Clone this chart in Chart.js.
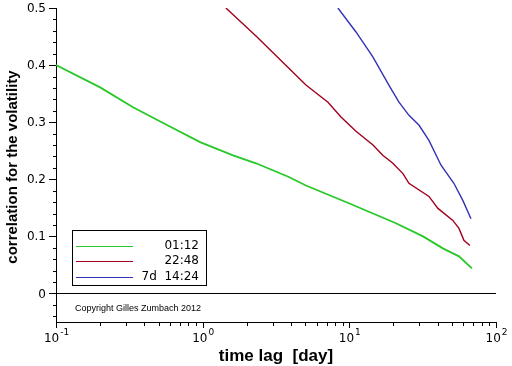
<!DOCTYPE html>
<html>
<head>
<meta charset="utf-8">
<script src="https://cdn.jsdelivr.net/npm/chart.js@4/dist/chart.umd.min.js"></script>
<style>
  html, body { margin: 0; padding: 0; background: #fff; }
  canvas { display: block; }
</style>
</head>
<body>
<canvas id="grafico" width="512" height="366"></canvas>
<script>
// --- datos (lag en dias, correlacion) ---
const greenX = [0.1, 0.2, 0.335, 0.571, 0.96, 1.61, 2.31, 3.87, 5.06, 9.93, 20.8, 31.8, 43.4, 55.9, 68.5];
const greenY = [0.4, 0.361, 0.326, 0.295, 0.265, 0.242, 0.228, 0.204, 0.189, 0.158, 0.123, 0.10, 0.079, 0.065, 0.044];

const redX = [1.44, 2.31, 5.06, 7.15, 8.77, 11.1, 14.5, 16.9, 19.8, 23.2, 25.5, 34.9, 40.2, 50.8, 55.9, 60.4, 66.4];
const redY = [0.5, 0.451, 0.365, 0.335, 0.309, 0.284, 0.26, 0.242, 0.228, 0.21, 0.193, 0.170, 0.149, 0.128, 0.114, 0.093, 0.084];

const blueX = [8.36, 11.1, 14.5, 18.6, 21.8, 25.5, 29.8, 34.9, 42.1, 51.6, 59.4, 67.5];
const blueY = [0.5, 0.458, 0.414, 0.365, 0.335, 0.312, 0.295, 0.268, 0.225, 0.193, 0.163, 0.131];

const seriesNames = ["01:12", "22:48", "7d  14:24"];
const seriesColors = ["#28c828", "#a0001e", "#3232b4"];

const yTickValues = [0, 0.1, 0.2, 0.3, 0.4, 0.5];
const yTickLabels = ["0", "0.1", "0.2", "0.3", "0.4", "0.5"];
const yMinorStep = 0.02;
const xTickValues = [0.1, 1, 10, 100];
const xTickExponents = ["-1", "0", "1", "2"];

const xTitle = "time lag  [day]";
const yTitle = "correlation for the volatility";
const copyright = "Copyright Gilles Zumbach 2012";

function puntos(xs, ys) {
  return xs.map((x, i) => ({ x, y: ys[i] }));
}

const THIN = "12px 'DejaVu Sans'";

// dibuja ticks, etiquetas, titulos, linea cero y leyenda
const decoracion = {
  id: "decoracion",
  afterDraw(chart) {
    const { ctx, chartArea: a, scales: { x, y } } = chart;
    ctx.save();
    ctx.strokeStyle = "#000";
    ctx.fillStyle = "#000";
    ctx.lineWidth = 1;

    // linea cero
    const y0 = Math.round(y.getPixelForValue(0)) + 0.5;
    ctx.beginPath();
    ctx.moveTo(a.left, y0);
    ctx.lineTo(a.right, y0);
    ctx.stroke();

    // ticks eje y (hacia fuera)
    ctx.beginPath();
    for (let v = -0.04; v <= 0.5001; v += yMinorStep) {
      const py = Math.round(y.getPixelForValue(v)) + 0.5;
      const major = Math.abs(v * 10 - Math.round(v * 10)) < 1e-6;
      ctx.moveTo(a.left, py);
      ctx.lineTo(a.left - (major ? 7 : 3), py);
    }
    ctx.stroke();

    ctx.font = THIN;
    ctx.textAlign = "right";
    ctx.textBaseline = "middle";
    yTickValues.forEach((v, i) => {
      ctx.fillText(yTickLabels[i], a.left - 10, y.getPixelForValue(v) + 1);
    });

    // ticks eje x (log)
    ctx.beginPath();
    for (let d = 0.1; d < 100; d *= 10) {
      for (let k = 1; k <= 10; k++) {
        const v = d * k;
        if (v > 100.0001) break;
        const px = Math.round(x.getPixelForValue(v)) + 0.5;
        ctx.moveTo(px, a.bottom);
        ctx.lineTo(px, a.bottom + (k === 1 || k === 10 ? 6 : 4));
      }
    }
    ctx.stroke();

    ctx.textBaseline = "alphabetic";
    xTickValues.forEach((v, i) => {
      const px = x.getPixelForValue(v);
      ctx.font = THIN;
      const wBase = ctx.measureText("10").width;
      ctx.font = "9px 'DejaVu Sans'";
      const wExp = ctx.measureText(xTickExponents[i]).width;
      const start = px - (wBase + wExp) / 2;
      ctx.textAlign = "left";
      ctx.font = THIN;
      ctx.fillText("10", start, a.bottom + 20);
      ctx.font = "9px 'DejaVu Sans'";
      ctx.fillText(xTickExponents[i], start + wBase + 1, a.bottom + 13);
    });

    // titulos
    ctx.textAlign = "center";
    ctx.font = "bold 17px 'Liberation Sans'";
    ctx.fillText(xTitle, 276, 361);
    ctx.save();
    ctx.font = "bold 15px 'Liberation Sans'";
    ctx.translate(17, 167);
    ctx.rotate(-Math.PI / 2);
    ctx.fillText(yTitle, 0, 0);
    ctx.restore();

    // leyenda
    ctx.strokeRect(72.5, 230.5, 134, 55);
    ctx.font = THIN;
    ctx.textAlign = "right";
    ctx.textBaseline = "middle";
    seriesNames.forEach((name, i) => {
      const ly = 245.5 + i * 15.5;
      ctx.strokeStyle = seriesColors[i];
      ctx.beginPath();
      ctx.moveTo(76, Math.round(ly) + 0.5);
      ctx.lineTo(133, Math.round(ly) + 0.5);
      ctx.stroke();
      ctx.fillText(name, 199, ly);
    });

    // copyright
    ctx.font = "9px 'Liberation Sans'";
    ctx.textAlign = "left";
    ctx.textBaseline = "alphabetic";
    ctx.fillText(copyright, 75, 311);
    ctx.restore();
  }
};

const lineWidths = [1.8, 1.4, 1.4];
const datasets = [
  { data: puntos(greenX, greenY) },
  { data: puntos(redX, redY) },
  { data: puntos(blueX, blueY) }
].map((d, i) => ({
  ...d,
  borderColor: seriesColors[i],
  borderWidth: lineWidths[i],
  pointRadius: 0,
  tension: 0,
  fill: false
}));

new Chart(document.getElementById("grafico"), {
  type: "line",
  data: { datasets },
  options: {
    responsive: false,
    animation: false,
    layout: { padding: { left: 0, top: 8, right: 16, bottom: 0 } },
    plugins: { legend: { display: false }, tooltip: { enabled: false } },
    scales: {
      x: {
        type: "logarithmic",
        min: 0.1,
        max: 100,
        ticks: { display: false },
        grid: { display: false },
        border: { display: true, color: "#000", width: 1 },
        afterFit(scale) { scale.height = 44; }
      },
      y: {
        type: "linear",
        min: -0.05,
        max: 0.5,
        ticks: { display: false },
        grid: { display: false },
        border: { display: true, color: "#000", width: 1 },
        afterFit(scale) { scale.width = 56; }
      }
    }
  },
  plugins: [decoracion]
});
</script>
</body>
</html>
